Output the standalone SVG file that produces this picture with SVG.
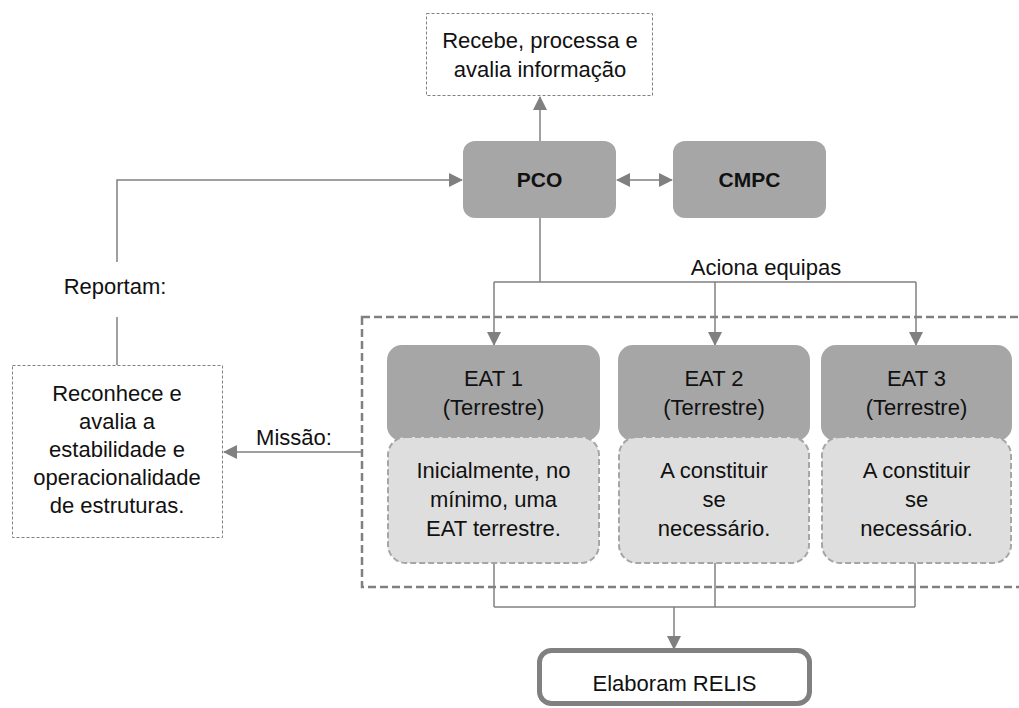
<svg xmlns="http://www.w3.org/2000/svg" width="1019" height="708" viewBox="0 0 1019 708">
  <defs>
    <marker id="arrow" markerUnits="userSpaceOnUse" markerWidth="14" markerHeight="14" viewBox="0 0 14 14" refX="13" refY="7" orient="auto-start-reverse">
      <path d="M0,0 L14,7 L0,14 z" fill="#808080"/>
    </marker>
    <style>
      text { font-family: "Liberation Sans", Arial, sans-serif; font-size: 22px; fill: #111; text-anchor: middle; }
      .bold { font-weight: bold; font-size: 21px; }
      .note { fill: #fff; stroke: #808080; stroke-width: 1; stroke-dasharray: 3 2; }
      .head { fill: #a6a6a6; stroke: none; }
      .sub { fill: #dedede; stroke: #a6a6a6; stroke-width: 2; stroke-dasharray: 6 3; }
      .group { fill: none; stroke: #808080; stroke-width: 2.5; stroke-dasharray: 8 4; }
      .link { fill: none; stroke: #808080; stroke-width: 1.5; }
      .arrow { marker-end: url(#arrow); }
    </style>
  </defs>

  <rect width="1019" height="708" fill="#fff"/>

  <!-- team frame -->
  <rect id="team-frame" class="group" x="362" y="317" width="700" height="270"/>

  <!-- connectors -->
  <g id="connectors">
    <line class="link arrow" x1="540" y1="141" x2="540" y2="97"/>
    <line class="link" x1="617" y1="180" x2="672" y2="180" marker-start="url(#arrow)" marker-end="url(#arrow)"/>
    <polyline class="link arrow" points="117,262 117,180 462,180"/>
    <line class="link" x1="117" y1="317" x2="117" y2="365"/>
    <polyline class="link" points="540,218 540,282"/>
    <line class="link" x1="494" y1="282" x2="916" y2="282"/>
    <line class="link arrow" x1="494" y1="282" x2="494" y2="345"/>
    <line class="link arrow" x1="715" y1="282" x2="715" y2="345"/>
    <line class="link arrow" x1="916" y1="282" x2="916" y2="345"/>
    <line class="link arrow" x1="362" y1="452" x2="224" y2="452"/>
    <line class="link" x1="494" y1="563" x2="494" y2="607"/>
    <line class="link" x1="715" y1="563" x2="715" y2="607"/>
    <line class="link" x1="915" y1="563" x2="915" y2="607"/>
    <line class="link" x1="494" y1="607" x2="915" y2="607"/>
    <line class="link arrow" x1="674" y1="607" x2="674" y2="649"/>
    <text x="115" y="294">Reportam:</text>
    <text x="294" y="445">Missão:</text>
    <text x="766" y="275">Aciona equipas</text>
  </g>

  <g id="info">
    <rect class="note" x="426.5" y="13.5" width="226" height="82"/>
    <text x="540" y="48">Recebe, processa e</text>
    <text x="540" y="77">avalia informação</text>
  </g>

  <g id="pco">
    <rect class="head" x="463" y="141" width="153" height="77" rx="12"/>
    <text class="bold" x="539.5" y="187">PCO</text>
  </g>

  <g id="cmpc">
    <rect class="head" x="673" y="141" width="153" height="77" rx="12"/>
    <text class="bold" x="749.5" y="187">CMPC</text>
  </g>

  <g id="mission">
    <rect class="note" x="12.5" y="365.5" width="210" height="172"/>
    <text x="117" y="401">Reconhece e</text>
    <text x="117" y="429">avalia a</text>
    <text x="117" y="457">estabilidade e</text>
    <text x="117" y="485">operacionalidade</text>
    <text x="117" y="513">de estruturas.</text>
  </g>

  <g id="eat1">
    <rect class="head" x="387" y="345" width="213" height="96" rx="15"/>
    <text x="493.5" y="386">EAT 1</text>
    <text x="493.5" y="415">(Terrestre)</text>
    <rect class="sub" x="388" y="437" width="211" height="126" rx="18"/>
    <text x="493.5" y="478">Inicialmente, no</text>
    <text x="493.5" y="507">mínimo, uma</text>
    <text x="493.5" y="536">EAT terrestre.</text>
  </g>

  <g id="eat2">
    <rect class="head" x="618" y="345" width="192" height="96" rx="15"/>
    <text x="714" y="386">EAT 2</text>
    <text x="714" y="415">(Terrestre)</text>
    <rect class="sub" x="619" y="437" width="190" height="126" rx="18"/>
    <text x="714" y="478">A constituir</text>
    <text x="714" y="507">se</text>
    <text x="714" y="536">necessário.</text>
  </g>

  <g id="eat3">
    <rect class="head" x="821" y="345" width="191" height="96" rx="15"/>
    <text x="916.5" y="386">EAT 3</text>
    <text x="916.5" y="415">(Terrestre)</text>
    <rect class="sub" x="822" y="437" width="189" height="126" rx="18"/>
    <text x="916.5" y="478">A constituir</text>
    <text x="916.5" y="507">se</text>
    <text x="916.5" y="536">necessário.</text>
  </g>

  <g id="relis">
    <rect x="539.5" y="650.5" width="270" height="53" rx="12" fill="#fff" stroke="#808080" stroke-width="5"/>
    <text x="674.5" y="691">Elaboram RELIS</text>
  </g>
</svg>
